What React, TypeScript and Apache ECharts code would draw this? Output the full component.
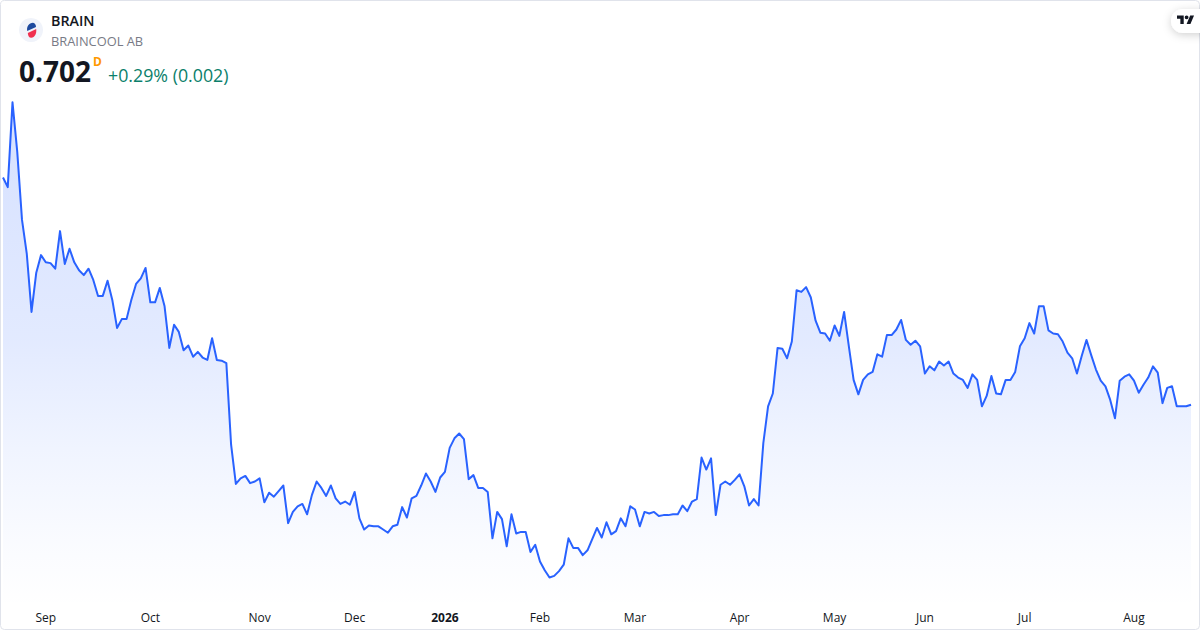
import React, { useEffect, useRef } from "react";
import * as echarts from "echarts";

const symbolName = "BRAIN";
const companyName = "BRAINCOOL AB";
const lastPrice = "0.702";
const interval = "D";
const change = "+0.29% (0.002)";

const prices = [
  0.986, 0.974, 1.080, 1.018, 0.933, 0.891, 0.818, 0.867, 0.889, 0.880, 0.879, 0.872, 0.919, 0.878, 0.897, 0.880,
  0.870, 0.864, 0.872, 0.858, 0.838, 0.838, 0.857, 0.833, 0.798, 0.809, 0.809, 0.833, 0.853, 0.860, 0.873, 0.830,
  0.830, 0.848, 0.825, 0.773, 0.802, 0.793, 0.770, 0.776, 0.762, 0.768, 0.761, 0.758, 0.785, 0.758, 0.757, 0.754,
  0.652, 0.603, 0.610, 0.613, 0.604, 0.606, 0.610, 0.580, 0.592, 0.587, 0.594, 0.601, 0.554, 0.568, 0.575, 0.578,
  0.565, 0.589, 0.606, 0.598, 0.588, 0.601, 0.585, 0.578, 0.581, 0.577, 0.593, 0.560, 0.546, 0.551, 0.550, 0.550,
  0.546, 0.542, 0.550, 0.552, 0.574, 0.561, 0.585, 0.588, 0.601, 0.616, 0.606, 0.593, 0.611, 0.618, 0.648, 0.660,
  0.666, 0.659, 0.609, 0.614, 0.598, 0.598, 0.593, 0.535, 0.568, 0.559, 0.525, 0.565, 0.541, 0.543, 0.543, 0.518,
  0.527, 0.506, 0.495, 0.486, 0.488, 0.494, 0.502, 0.535, 0.523, 0.523, 0.514, 0.520, 0.534, 0.548, 0.536, 0.555,
  0.540, 0.544, 0.560, 0.550, 0.575, 0.571, 0.550, 0.568, 0.566, 0.568, 0.563, 0.564, 0.564, 0.565, 0.565, 0.576,
  0.569, 0.581, 0.584, 0.636, 0.621, 0.635, 0.564, 0.602, 0.606, 0.602, 0.608, 0.615, 0.600, 0.576, 0.584, 0.576,
  0.654, 0.700, 0.716, 0.773, 0.772, 0.760, 0.781, 0.845, 0.843, 0.849, 0.836, 0.807, 0.792, 0.791, 0.782, 0.801,
  0.788, 0.818, 0.775, 0.733, 0.715, 0.733, 0.740, 0.743, 0.765, 0.762, 0.789, 0.789, 0.796, 0.808, 0.783, 0.777,
  0.782, 0.775, 0.741, 0.750, 0.745, 0.756, 0.751, 0.756, 0.741, 0.736, 0.733, 0.723, 0.740, 0.733, 0.700, 0.713,
  0.738, 0.716, 0.715, 0.733, 0.733, 0.743, 0.775, 0.785, 0.804, 0.791, 0.825, 0.825, 0.795, 0.791, 0.790, 0.781,
  0.767, 0.760, 0.741, 0.763, 0.783, 0.764, 0.746, 0.732, 0.725, 0.708, 0.685, 0.732, 0.737, 0.740, 0.732, 0.717,
  0.727, 0.736, 0.750, 0.742, 0.704, 0.723, 0.725, 0.700, 0.700, 0.700, 0.702,
];

const tickLabels = ["Sep", "Oct", "Nov", "Dec", "2026", "Feb", "Mar", "Apr", "May", "Jun", "Jul", "Aug"];
const tickPositions = [9, 31, 54, 74, 93, 113, 133, 155, 175, 194, 215, 238];

const categories = prices.map((_, i) => {
  const t = tickPositions.indexOf(i);
  return t >= 0 ? tickLabels[t] : "";
});

const FONT = '"Open Sans", sans-serif';

export default function App() {
  const ref = useRef<HTMLDivElement>(null);
  useEffect(() => {
    document.body.style.margin = "0";
    document.body.style.background = "#ffffff";
    const chart = echarts.init(ref.current!, undefined, { renderer: "svg" });
    echarts.graphic.registerShape(
      "tvMark",
      echarts.graphic.extendPath("M14 22H7V11H0V4h14v18zM28 22h-8l7.5-18h8L28 22zM24 8a4 4 0 1 1-8 0a4 4 0 0 1 8 0z", {})
    );
    echarts.graphic.registerShape(
      "logoTop",
      echarts.graphic.extendPath("M27.2 31 C26.3 26.5 29 23.2 33 22.8 C35 23 36 25 36 27 Z", {})
    );
    echarts.graphic.registerShape(
      "logoBottom",
      echarts.graphic.extendPath("M27.8 33 L36.2 29 C36.8 33.5 34.8 37.6 31.2 37.8 C29 37.8 28 35.8 27.8 33 Z", {})
    );
    chart.setOption({
      animation: false,
      backgroundColor: "#ffffff",
      grid: { left: 3, width: 1188, top: 0, height: 602, containLabel: false },
      xAxis: {
        type: "category",
        data: categories,
        boundaryGap: false,
        axisLine: { show: false },
        axisTick: { show: false },
        splitLine: { show: false },
        axisLabel: {
          interval: (_: number, v: string) => v !== "",
          margin: 9,
          fontFamily: FONT,
          fontSize: 12,
          color: "#131722",
          formatter: (v: string) => (v === "2026" ? "{b|2026}" : v),
          rich: { b: { fontFamily: FONT, fontSize: 12, fontWeight: 700, color: "#131722" } },
        },
      },
      yAxis: {
        type: "value",
        show: false,
        min: 0.4554,
        max: 1.2079,
        splitLine: { show: false },
      },
      series: [
        {
          type: "line",
          data: prices,
          symbol: "none",
          smooth: false,
          lineStyle: { color: "#2962ff", width: 2, join: "round" },
          areaStyle: {
            origin: "start",
            color: {
              type: "linear",
              global: true,
              x: 0,
              y: 90,
              x2: 0,
              y2: 610,
              colorStops: [
                { offset: 0, color: "rgba(41,98,255,0.28)" },
                { offset: 0.48, color: "rgba(41,98,255,0.19)" },
                { offset: 0.69, color: "rgba(41,98,255,0.10)" },
                { offset: 0.885, color: "rgba(41,98,255,0.03)" },
                { offset: 1, color: "rgba(41,98,255,0)" },
              ],
            },
          },
        },
      ],
      graphic: [
        { type: "rect", shape: { x: 0.5, y: 0.5, width: 1199, height: 629, r: 4 }, style: { fill: "none", stroke: "#e0e3eb", lineWidth: 1 }, silent: true, z: 10 },
        { type: "circle", shape: { cx: 31, cy: 30, r: 12 }, style: { fill: "#f0f3fa" }, z: 10 },
        { type: "logoTop", style: { fill: "#1e4a9e" }, z: 11 },
        { type: "logoBottom", style: { fill: "#f0304f" }, z: 11 },
        { type: "text", x: 51, y: 20.5, style: { text: symbolName, font: `600 14.3px ${FONT}`, fill: "#131722", verticalAlign: "middle" }, z: 10 },
        { type: "text", x: 51, y: 40.5, style: { text: companyName, font: `400 12.85px ${FONT}`, fill: "#787b86", verticalAlign: "middle" }, z: 10 },
        { type: "text", x: 19, y: 71, style: { text: lastPrice, font: `700 28px ${FONT}`, fill: "#131722", verticalAlign: "middle" }, z: 10 },
        { type: "text", x: 93, y: 61.5, style: { text: interval, font: `700 12px ${FONT}`, fill: "#ff9800", verticalAlign: "middle" }, z: 10 },
        { type: "text", x: 108, y: 74.5, style: { text: change, font: `400 17.8px ${FONT}`, fill: "#0b7f6b", verticalAlign: "middle" }, z: 10 },
        { type: "rect", shape: { x: 1171, y: 9, width: 60, height: 24, r: 12 }, style: { fill: "#ffffff", shadowBlur: 8, shadowColor: "rgba(0,0,0,0.18)", shadowOffsetY: 2 }, z: 10 },
        { type: "rect", shape: { x: 1200, y: 0, width: 10, height: 630 }, style: { fill: "#ffffff" }, z: 11 },
        { type: "tvMark", x: 1177, y: 13.5, scaleX: 0.48, scaleY: 0.48, style: { fill: "#131722" }, z: 12 },
      ],
    });
    return () => chart.dispose();
  }, []);
  return <div ref={ref} style={{ width: 1200, height: 630 }} />;
}
